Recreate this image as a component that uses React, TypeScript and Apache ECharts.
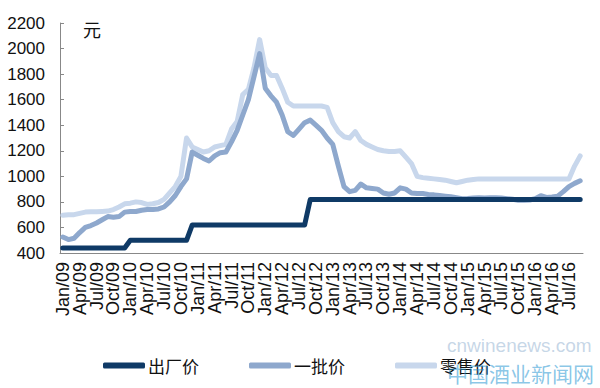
import React, { useEffect, useRef } from "react";
import * as echarts from "echarts";

const months = ["Jan", "Feb", "Mar", "Apr", "May", "Jun", "Jul", "Aug", "Sep", "Oct", "Nov", "Dec"];
const years = ["09", "10", "11", "12", "13", "14", "15", "16"];
const categories: string[] = [];
for (const y of years) for (const m of months) categories.push(`${m}/${y}`);
categories.length = 93; // Jan/09 .. Sep/16

const yTicks = [400, 600, 800, 1000, 1200, 1400, 1600, 1800, 2000, 2200];

// 出厂价 (ex-factory price)
const exFactory: number[] = [
  439, 439, 439, 439, 439, 439, 439, 439, 439, 439, 439, 439,
  499, 499, 499, 499, 499, 499, 499, 499, 499, 499, 499,
  619, 619, 619, 619, 619, 619, 619, 619, 619, 619, 619, 619,
  619, 619, 619, 619, 619, 619, 619, 619, 619,
  819, 819, 819, 819, 819, 819, 819, 819, 819, 819, 819, 819,
  819, 819, 819, 819, 819, 819, 819, 819, 819, 819, 819, 819,
  819, 819, 819, 819, 819, 819, 819, 819, 819, 819, 819, 819,
  819, 819, 819, 819, 819, 819, 819, 819, 819, 819, 819, 819, 819,
];

// 一批价 (wholesale price)
const wholesale: number[] = [
  525, 505, 515, 560, 600, 615, 635, 660, 685, 680, 685, 720,
  725, 725, 735, 740, 740, 745, 760, 800, 850, 920, 980, 1190,
  1165, 1140, 1120, 1160, 1185, 1190, 1270, 1360, 1480, 1600, 1780, 1960,
  1690, 1630, 1580, 1480, 1350, 1320, 1370, 1420, 1440, 1400, 1360, 1300,
  1250, 1080, 920, 880, 890, 940, 910, 905, 900, 870, 860, 870,
  910, 900, 870, 865, 865, 858, 855, 850, 845, 840, 832, 825,
  826, 830, 832, 830, 832, 833, 830, 825, 820, 812, 812, 815,
  825, 848, 835, 838, 845, 880, 920, 945, 965,
];

// 零售价 (retail price)
const retail: number[] = [
  695, 700, 700, 710, 720, 722, 722, 725, 728, 740, 760, 785,
  790, 800, 795, 780, 785, 795, 820, 870, 920, 1000, 1300, 1230,
  1210, 1190, 1200, 1230, 1240, 1250, 1370, 1430, 1640, 1680, 1850, 2070,
  1850, 1790, 1790, 1690, 1580, 1550, 1550, 1550, 1550, 1550, 1550, 1540,
  1420, 1350, 1310, 1300, 1350, 1280, 1250, 1230, 1210, 1200, 1195, 1195,
  1200, 1150, 1100, 1000, 990, 985, 980, 975, 970, 960, 950, 960,
  970, 975, 980, 980, 980, 980, 980, 980, 980, 980, 980, 980,
  980, 980, 980, 980, 980, 980, 980, 1080, 1160,
];

const seriesNames = ["出厂价", "一批价", "零售价"];
const colors = ["#0f3a66", "#8ea8cd", "#c8d7ec"];

export default function App() {
  const ref = useRef<HTMLDivElement>(null);
  useEffect(() => {
    if (!ref.current) return;
    const chart = echarts.init(ref.current, null, { renderer: "svg" });
    const data = [exFactory, wholesale, retail];
    chart.setOption({
      animation: false,
      backgroundColor: "#ffffff",
      grid: { left: 60, right: 17, top: 23, bottom: 135, containLabel: false },
      legend: {
        left: 98,
        top: 352,
        itemGap: 50,
        itemWidth: 42,
        itemHeight: 6,
        icon: "roundRect",
        data: seriesNames,
        textStyle: { fontSize: 17, color: "#111", fontFamily: "Noto Sans CJK SC", padding: [0, 0, 0, -2] },
      },
      xAxis: {
        type: "category",
        data: categories,
        boundaryGap: true,
        axisLine: { lineStyle: { color: "#888", width: 1 } },
        axisTick: { inside: true, length: 5, interval: 2, lineStyle: { color: "#888" } },
        axisLabel: {
          interval: 0,
          formatter: (v: string, i: number) => (i % 3 === 0 ? v : ""),
          rotate: 90,
          margin: 9,
          fontSize: 18,
          color: "#111",
          fontFamily: "Liberation Sans",
        },
        splitLine: { show: false },
      },
      yAxis: {
        type: "value",
        min: yTicks[0],
        max: yTicks[yTicks.length - 1],
        interval: 200,
        axisLine: { show: true, lineStyle: { color: "#888", width: 1 } },
        axisTick: { show: true, inside: true, length: 4, lineStyle: { color: "#888" } },
        axisLabel: {
          fontSize: 17,
          color: "#111",
          margin: 15,
          fontFamily: "Liberation Sans",
          formatter: (v: number) => String(v),
        },
        splitLine: { show: false },
      },
      series: seriesNames.map((name, k) => ({
        name,
        type: "line",
        data: data[k],
        symbol: "none",
        z: 3 - k,
        lineStyle: { width: 5, color: colors[k], cap: "round", join: "round" },
        itemStyle: { color: colors[k] },
      })),
      graphic: [
        {
          type: "text",
          left: 83,
          top: 20,
          style: { text: "元", fontSize: 18, fill: "#111", fontFamily: "Noto Sans CJK SC" },
        },
        {
          type: "text",
          left: 447,
          top: 336,
          z: 100,
          style: { text: "cnwinenews.com", fontSize: 19, fill: "rgba(150,180,210,0.55)", fontFamily: "Liberation Sans" },
        },
        {
          type: "text",
          left: 447,
          top: 362,
          z: 100,
          style: { text: "中国酒业新闻网", fontSize: 21, fill: "rgba(40,150,210,0.55)", fontFamily: "Noto Sans CJK SC" },
        },
      ],
    });
    return () => chart.dispose();
  }, []);
  return <div ref={ref} style={{ width: 600, height: 388, position: "absolute", left: 0, top: 0 }} />;
}
